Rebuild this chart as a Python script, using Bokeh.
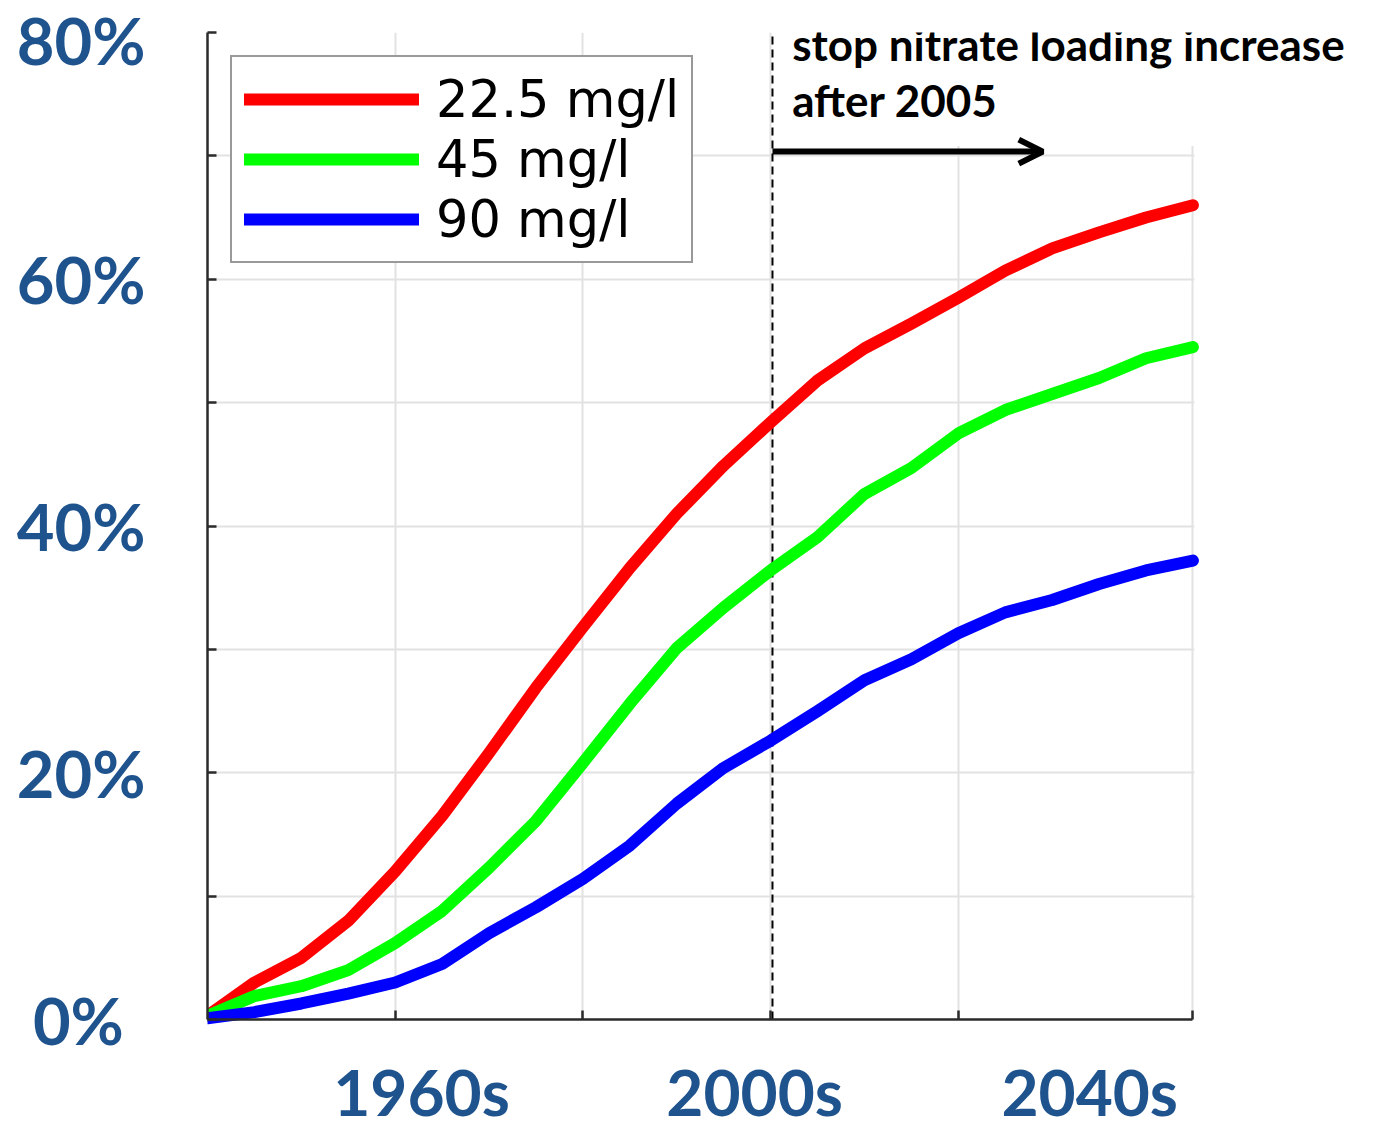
from bokeh.plotting import figure
from bokeh.models import (Range1d, FixedTicker, Legend, LegendItem, Arrow,
                          OpenHead, Label)
from bokeh.embed import file_html
from bokeh.resources import INLINE

# ---- data ----
years = [1945, 1950, 1955, 1960, 1965, 1970, 1975, 1980, 1985, 1990, 1995,
         2000, 2005, 2010, 2015, 2020, 2025, 2030, 2035, 2040, 2045, 2050]
red_22_5 = [0.3, 3.0, 5.0, 8.0, 12.0, 16.5, 21.6, 26.9, 31.8, 36.6, 41.0,
            44.9, 48.4, 51.8, 54.4, 56.4, 58.5, 60.7, 62.5, 63.8, 65.0, 66.0]
green_45 = [0.3, 1.9, 2.7, 4.0, 6.2, 8.8, 12.3, 16.1, 20.8, 25.6, 30.1,
            33.4, 36.4, 39.1, 42.6, 44.7, 47.5, 49.4, 50.7, 52.0, 53.6, 54.5]
blue_90 = [0.1, 0.6, 1.3, 2.1, 3.0, 4.5, 7.0, 9.1, 11.4, 14.1, 17.5,
           20.4, 22.6, 25.0, 27.5, 29.2, 31.3, 33.0, 34.0, 35.3, 36.4, 37.2]
series_names = ["22.5 mg/l", "45 mg/l", "90 mg/l"]
series_colors = ["#ff0000", "#00ff00", "#0000ff"]

x_start, x_end = 1945, 2050
x_ticks = [1965, 1985, 2005, 2025, 2050]
y_ticks = [0, 10, 20, 30, 40, 50, 60, 70, 80]
y_major = [0, 20, 40, 60, 80]
y_minor = [10, 30, 50, 70]
y_labels = {0: "0%\u2004", 20: "20%", 40: "40%", 60: "60%", 80: "80%"}
decade_labels = ["1960s", "2000s", "2040s"]
decade_pos = [1967.8, 2003.3, 2039.0]
stop_year = 2005.2
note_lines = ["stop nitrate loading increase", "after 2005"]

BLUE_TXT = "#1f538d"
AXIS_COL = "#2b2b2b"

# frame: left edge 207px, top 32px; 9.385 px per year, 12.34 px per percent
W, H = 1375, 1122
view_x_end = x_start + (W - 207) / 9.385
view_y_start = -(H - 1019) / 12.34

p = figure(width=W, height=H, output_backend="svg", toolbar_location=None,
           x_range=Range1d(x_start, view_x_end), y_range=Range1d(view_y_start, 80),
           min_border_left=207, min_border_right=0, min_border_top=32,
           min_border_bottom=0)
p.outline_line_color = None
p.background_fill_color = "white"

# x axis drawn at y = 0 with inward ticks only
xa = p.xaxis[0]
xa.fixed_location = 0
xa.bounds = (x_start, x_end)
xa.ticker = FixedTicker(ticks=[], minor_ticks=x_ticks)
xa.major_tick_line_color = None
xa.minor_tick_in = 9
xa.minor_tick_out = 0
xa.minor_tick_line_color = AXIS_COL
xa.minor_tick_line_width = 2.5
xa.axis_line_color = AXIS_COL
xa.axis_line_width = 2.5

# y axis
ya = p.yaxis[0]
ya.bounds = (0, 80)
ya.ticker = FixedTicker(ticks=y_major, minor_ticks=y_minor)
ya.major_label_overrides = y_labels
ya.major_label_text_font = "Lato"
ya.major_label_text_font_style = "bold"
ya.major_label_text_font_size = "65px"
ya.major_label_text_color = BLUE_TXT
ya.major_label_standoff = 62
ya.major_tick_in = 9
ya.major_tick_out = 0
ya.minor_tick_in = 9
ya.minor_tick_out = 0
ya.major_tick_line_color = AXIS_COL
ya.minor_tick_line_color = AXIS_COL
ya.major_tick_line_width = 2.5
ya.minor_tick_line_width = 2.5
ya.axis_line_color = AXIS_COL
ya.axis_line_width = 2.5

p.xgrid.ticker = FixedTicker(ticks=x_ticks)
p.ygrid.ticker = FixedTicker(ticks=y_ticks)
for g in (p.xgrid, p.ygrid):
    g.grid_line_color = "#e2e2e2"
    g.grid_line_width = 2

# white masks: below the x axis, right of the last year, top-right corner
p.quad(left=[x_start - 5, x_end + 0.15, stop_year],
       right=[view_x_end + 5, view_x_end + 5, x_end + 0.15],
       bottom=[view_y_start - 5, view_y_start - 5, 70.8],
       top=[0, 85, 85], fill_color="white", line_color=None)

# dashed line marking 2005
p.segment(x0=[stop_year], y0=[0], x1=[stop_year], y1=[80], line_color="black",
          line_dash="8 5", line_width=2)

items = []
for name, col, ys in zip(series_names, series_colors, [red_22_5, green_45, blue_90]):
    r = p.line(years, ys, line_color=col, line_width=12, line_cap="round",
               line_join="round")
    items.append(LegendItem(label=name, renderers=[r]))

legend = Legend(items=items, location="top_left", margin=23, padding=12,
                spacing=0, glyph_width=175, glyph_height=60, label_height=60,
                label_standoff=17, label_text_font="DejaVu Sans",
                label_text_font_size="51px", label_text_color="black",
                border_line_color="#333333", border_line_width=2,
                background_fill_color="white", background_fill_alpha=1)
p.add_layout(legend)

p.add_layout(Arrow(end=OpenHead(size=24, line_width=6, line_color="black"),
                   x_start=stop_year, y_start=70.35, x_end=2034.0, y_end=70.35,
                   line_width=6, line_color="black"))

for txt, yv in zip(note_lines, [79.09, 74.55]):
    p.add_layout(Label(x=2007.3, y=yv, text=txt,
                       text_font="Lato", text_font_style="bold",
                       text_font_size="44px", text_color="black",
                       text_baseline="alphabetic", text_align="left"))

for txt, xp in zip(decade_labels, decade_pos):
    p.add_layout(Label(x=xp, y=-5.85, text=txt, text_font="Lato",
                       text_font_style="bold", text_font_size="64px",
                       text_color=BLUE_TXT, text_baseline="alphabetic",
                       text_align="center"))

open("out.html", "w").write(file_html(p, INLINE))
